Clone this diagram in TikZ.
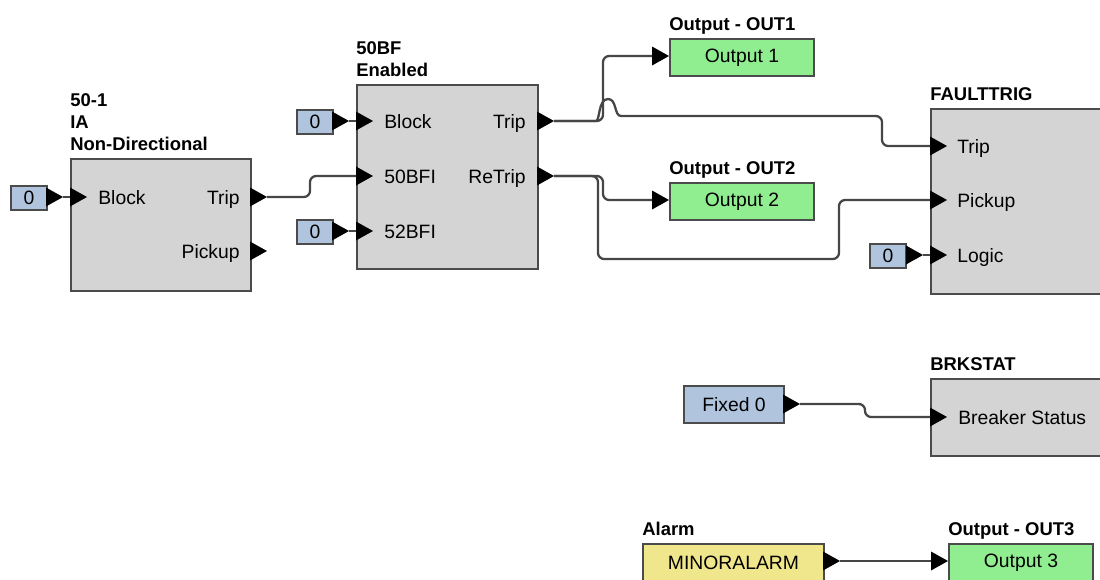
\documentclass[tikz,border=0pt]{standalone}
\usepackage{fontspec}
\setmainfont{Liberation Sans}
\usepackage{tikz}
\usetikzlibrary{positioning, calc}
\definecolor{blockgray}{RGB}{212,212,212}
\definecolor{edgegray}{RGB}{75,75,75}
\definecolor{outgreen}{RGB}{144,238,144}
\definecolor{constblue}{RGB}{176,196,222}
\definecolor{alarmyellow}{RGB}{240,230,140}
\definecolor{wiregray}{RGB}{70,70,70}

\begin{document}
\begin{tikzpicture}[
  x=0.02cm, y=-0.02cm,
  block/.style={rectangle, draw=edgegray, fill=blockgray, line width=1.1pt, anchor=north west, inner sep=0},
  box/.style={rectangle, draw=edgegray, line width=1.1pt, anchor=north west, inner sep=0, font=\fontsize{11}{13}\selectfont, minimum height=0.74cm},
  outbox/.style={box, fill=outgreen, minimum width=2.88cm},
  constbox/.style={box, fill=constblue, minimum width=0.72cm, minimum height=0.48cm},
  title/.style={font=\fontsize{10.5}{12.6}\selectfont\bfseries, align=left, inner sep=0, text depth=0pt},
  inlab/.style={font=\fontsize{11}{13}\selectfont, inner sep=0, anchor=base west},
  outlab/.style={font=\fontsize{11}{13}\selectfont, inner sep=0, anchor=base east},
  wire/.style={draw=wiregray, line width=1.3pt, rounded corners=3.5pt},
  pin/.pic={\fill[black] (0,-9.5) -- (17,0) -- (0,9.5) -- cycle;
    \coordinate (-base) at (0,0); \coordinate (-tip) at (17,0);}
]
\useasboundingbox (0,0) rectangle (1100,579);
\clip (0,0) rectangle (1100,579);

% 50-1 element
\node[block, minimum width=3.6cm, minimum height=2.64cm] (oc) at (70,158) {};
\node[title, above right=0.14cm and 0cm of oc.north west] (ocT) {50-1\\IA\\Non-Directional};
\node[inlab] (ocBlockL) at (98,204) {Block};
\node[outlab] (ocTripL) at (240,204) {Trip};
\node[outlab] (ocPickL) at (240,258) {Pickup};

% 50BF element
\node[block, minimum width=3.62cm, minimum height=3.68cm] (bf) at (356,84) {};
\node[title, above right=0.14cm and 0cm of bf.north west] (bfT) {50BF\\Enabled};
\node[inlab] (bfBlockL) at (384,128) {Block};
\node[inlab] (bf50L) at (384,183) {50BFI};
\node[inlab] (bf52L) at (384,238) {52BFI};
\node[outlab] (bfTripL) at (526,128) {Trip};
\node[outlab] (bfReTripL) at (526,183) {ReTrip};

% FAULTTRIG element
\node[block, minimum width=3.8cm, minimum height=3.7cm] (ft) at (930,108) {};
\node[title, above right=0.14cm and 0cm of ft.north west] (ftT) {FAULTTRIG};
\node[inlab] (ftTripL) at (957,153) {Trip};
\node[inlab] (ftPickL) at (957,207) {Pickup};
\node[inlab] (ftLogicL) at (957,262) {Logic};

% BRKSTAT element
\node[block, minimum width=3.8cm, minimum height=1.54cm] (bs) at (930,378) {};
\node[title, above right=0.14cm and 0cm of bs.north west] (bsT) {BRKSTAT};
\node[inlab] (bsL) at (958,424) {Breaker Status};

% outputs, constants, alarm
\node[outbox] (o1) at (669,38) {Output 1};
\node[title, above right=0.14cm and 0cm of o1.north west] (o1T) {Output - OUT1};
\node[outbox] (o2) at (669,182) {Output 2};
\node[title, above right=0.14cm and 0cm of o2.north west] (o2T) {Output - OUT2};
\node[outbox] (o3) at (948,543) {Output 3};
\node[title, above right=0.14cm and 0cm of o3.north west] (o3T) {Output - OUT3};
\node[box, fill=alarmyellow, minimum width=3.62cm] (al) at (642,543) {MINORALARM};
\node[title, above right=0.14cm and 0cm of al.north west] (alT) {Alarm};
\node[box, fill=constblue, minimum width=2cm] (fx) at (683,385) {Fixed 0};
\node[constbox] (k1) at (10,185) {0};
\node[constbox] (k2) at (296,109) {0};
\node[constbox] (k3) at (296,219) {0};
\node[constbox] (k4) at (869,243) {0};

% pins
\pic (k1p) at (46,197) {pin};
\pic (k2p) at (332,121) {pin};
\pic (k3p) at (332,231) {pin};
\pic (k4p) at (906,255) {pin};
\pic (fxp) at (783,404) {pin};
\pic (alp) at (823,561) {pin};
\pic (ocBlock) at (70,197) {pin};
\pic (ocTrip) at (250,197) {pin};
\pic (ocPick) at (250,251) {pin};
\pic (bfBlock) at (356,121) {pin};
\pic (bf50) at (356,176) {pin};
\pic (bf52) at (356,231) {pin};
\pic (bfTrip) at (537,121) {pin};
\pic (bfReTrip) at (537,176) {pin};
\pic (ftTrip) at (930,146) {pin};
\pic (ftPick) at (930,200) {pin};
\pic (ftLogic) at (930,255) {pin};
\pic (bsIn) at (930,417) {pin};
\pic (o1p) at (652,56) {pin};
\pic (o2p) at (652,200) {pin};
\pic (o3p) at (931,561) {pin};

% wires
\draw[wire] (k1p-tip) -- (ocBlock-base);
\draw[wire] (k2p-tip) -- (bfBlock-base);
\draw[wire] (k3p-tip) -- (bf52-base);
\draw[wire] (k4p-tip) -- (ftLogic-base);
\draw[wire] (ocTrip-tip) -- (310,197) |- (bf50-base);
\draw[wire] (bfTrip-tip) -- (603,121) |- (o1p-base);
\draw[wire] (bfTrip-tip) [sharp corners] -- (596,121)
  .. controls (600,121) and (598,99) .. (608,99)
  .. controls (617,99) and (614,116) .. (621,116)
  [rounded corners=3.5pt] -- (882,116) |- (ftTrip-base);
\draw[wire] (bfReTrip-tip) -- (603,176) |- (o2p-base);
\draw[wire] (bfReTrip-tip) -- (598,176) |- (839,259) |- (ftPick-base);
\draw[wire] (fxp-tip) -- (865,404) |- (bsIn-base);
\draw[wire] (alp-tip) -- (o3p-base);
\end{tikzpicture}
\end{document}
